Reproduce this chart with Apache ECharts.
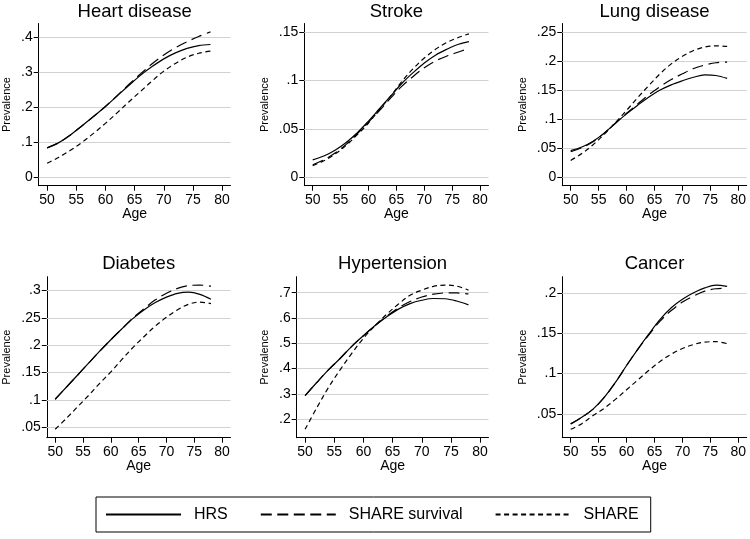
<!DOCTYPE html>
<html><head><meta charset="utf-8">
<script src="https://cdn.jsdelivr.net/npm/echarts@6/dist/echarts.min.js"></script>
<style>html,body{margin:0;padding:0;background:#fff}#c{width:750px;height:539px}</style>
</head><body><div id="c"></div>
<script>
// ---------------- data ----------------
const ages = [50,52,54,56,58,60,62,64,66,68,70,72,74,76,78];
const xTicks = [50,55,60,65,70,75,80];
const seriesNames = ['HRS','SHARE survival','SHARE'];
const titles = ['Heart disease','Stroke','Lung disease','Diabetes','Hypertension','Cancer'];

const heartHRS   = [0.084,0.099,0.121,0.147,0.174,0.202,0.232,0.262,0.291,0.316,0.338,0.355,0.368,0.376,0.379];
const heartSurv  = [0.084,0.099,0.121,0.147,0.174,0.202,0.233,0.265,0.295,0.324,0.349,0.370,0.387,0.402,0.415];
const heartSHARE = [0.040,0.057,0.077,0.100,0.126,0.154,0.184,0.215,0.245,0.275,0.303,0.325,0.343,0.354,0.360];

const strokeHRS   = [0.018,0.022,0.028,0.036,0.046,0.058,0.071,0.084,0.097,0.108,0.118,0.126,0.132,0.137,0.140];
const strokeSurv  = [0.013,0.018,0.025,0.034,0.045,0.057,0.069,0.082,0.094,0.104,0.113,0.120,0.125,0.129,0.133];
const strokeSHARE = [0.012,0.017,0.024,0.033,0.044,0.056,0.070,0.084,0.099,0.112,0.123,0.132,0.139,0.144,0.148];

const lungHRS   = [0.046,0.052,0.062,0.076,0.093,0.109,0.124,0.138,0.150,0.159,0.166,0.172,0.176,0.175,0.170];
const lungSurv  = [0.044,0.051,0.061,0.076,0.093,0.110,0.126,0.142,0.156,0.168,0.178,0.187,0.193,0.197,0.198];
const lungSHARE = [0.029,0.041,0.056,0.074,0.094,0.115,0.137,0.158,0.178,0.195,0.208,0.218,0.224,0.226,0.225];

const diabHRS   = [0.101,0.123,0.145,0.167,0.189,0.210,0.230,0.249,0.265,0.278,0.288,0.295,0.297,0.293,0.284];
const diabSurv  = [0.101,0.123,0.145,0.167,0.189,0.210,0.230,0.250,0.267,0.283,0.295,0.304,0.309,0.310,0.308];
const diabSHARE = [0.046,0.066,0.087,0.108,0.130,0.151,0.174,0.196,0.216,0.235,0.251,0.265,0.275,0.279,0.276];

const hyperHRS   = [0.293,0.345,0.395,0.440,0.488,0.530,0.570,0.605,0.635,0.657,0.670,0.677,0.676,0.667,0.652];
const hyperSurv  = [0.293,0.345,0.395,0.440,0.488,0.530,0.570,0.607,0.640,0.665,0.683,0.694,0.699,0.699,0.695];
const hyperSHARE = [0.160,0.245,0.325,0.395,0.460,0.520,0.570,0.615,0.655,0.690,0.710,0.725,0.730,0.726,0.710];

const cancerHRS   = [0.0377,0.046,0.056,0.0705,0.089,0.110,0.130,0.149,0.167,0.1815,0.192,0.200,0.206,0.2095,0.208];
const cancerSurv  = [0.0377,0.046,0.056,0.0705,0.089,0.110,0.130,0.148,0.165,0.178,0.1885,0.196,0.202,0.205,0.2055];
const cancerSHARE = [0.031,0.038,0.048,0.057,0.068,0.080,0.092,0.104,0.115,0.124,0.131,0.136,0.139,0.1395,0.137];

const yTicksHeart  = [0,0.1,0.2,0.3,0.4];
const yTicksStroke = [0,0.05,0.1,0.15];
const yTicksLung   = [0,0.05,0.1,0.15,0.2,0.25];
const yTicksDiab   = [0.05,0.1,0.15,0.2,0.25,0.3];
const yTicksHyper  = [0.2,0.3,0.4,0.5,0.6,0.7];
const yTicksCancer = [0.05,0.1,0.15,0.2];

// ---------------- layout ----------------
const FONT = '"Liberation Sans", Arial, Helvetica, sans-serif';
const boxes = [ // plot-region boxes [left, top, right, bottom]
  [38.7, 23.5, 230.5, 185.7],
  [304.3, 23.5, 488.5, 185.7],
  [562.3, 23.5, 746.7, 185.7],
  [46.8, 276.7, 230.5, 437.7],
  [296.7, 276.7, 488.5, 437.7],
  [562.3, 276.7, 746.7, 437.7]
];
const colNameX = [7, 265, 522.7];
const titleY = [11.8, 264.3];
const MARGIN = 8.4; // inner plot-region margin, px

const panelSeries = [
  [heartHRS, heartSurv, heartSHARE],
  [strokeHRS, strokeSurv, strokeSHARE],
  [lungHRS, lungSurv, lungSHARE],
  [diabHRS, diabSurv, diabSHARE],
  [hyperHRS, hyperSurv, hyperSHARE],
  [cancerHRS, cancerSurv, cancerSHARE]
];
const panelTicks = [yTicksHeart, yTicksStroke, yTicksLung, yTicksDiab, yTicksHyper, yTicksCancer];
const lineTypes = ['solid', [11, 5.5], [5, 3.5]];

const fmtY = v => {
  if (Math.abs(v) < 1e-9) return '0';
  let s = (+v.toFixed(4)).toString();
  return s.replace(/^0\./, '.');
};

const grid = [], xAxis = [], yAxis = [], series = [], graphic = [];
boxes.forEach((b, i) => {
  const [L, T, R, B] = b;
  grid.push({left: L, top: T, width: R - L, height: B - T});
  const xs = 30 / (R - L - 2 * MARGIN);
  const ticks = panelTicks[i];
  const all = panelSeries[i].flat();
  const lo = Math.min(ticks[0], Math.min(...all));
  const hi = Math.max(ticks[ticks.length - 1], Math.max(...all));
  const ys = (hi - lo) / (B - T - 2 * MARGIN);
  const col = i % 3, row = Math.floor(i / 3);
  const xMin = 50 - MARGIN * xs, xMax = 80 + MARGIN * xs;
  xAxis.push({
    type: 'value', gridIndex: i,
    min: xMin, max: xMax,
    axisLine: {show: true, onZero: false, lineStyle: {color: '#000', width: 1}},
    axisTick: {show: true, length: 5, customValues: xTicks, lineStyle: {color: '#000', width: 1}},
    axisLabel: {customValues: xTicks, margin: 7, fontSize: 14, color: '#000', fontFamily: FONT},
    splitLine: {show: false},
    name: 'Age', nameLocation: 'middle', nameGap: 21,
    nameTextStyle: {fontSize: 14, color: '#000', fontFamily: FONT}
  });
  yAxis.push({
    type: 'value', gridIndex: i,
    min: lo - MARGIN * ys, max: hi + MARGIN * ys,
    axisLine: {show: true, onZero: false, lineStyle: {color: '#000', width: 1}},
    axisTick: {show: true, length: 5, customValues: ticks, lineStyle: {color: '#000', width: 1}},
    axisLabel: {customValues: ticks, margin: 6, fontSize: 14, color: '#000', fontFamily: FONT, formatter: fmtY},
    splitLine: {show: false},
    name: 'Prevalence', nameLocation: 'middle', nameRotate: 90,
    nameGap: L - colNameX[col] - 5.5,
    nameTextStyle: {fontSize: 11, color: '#000', fontFamily: FONT}
  });
  panelSeries[i].forEach((vals, k) => {
    const s = {
      type: 'line', name: seriesNames[k], xAxisIndex: i, yAxisIndex: i, z: 3,
      data: ages.map((a, j) => [a, vals[j]]),
      symbol: 'none', showSymbol: false, smooth: 0.35, silent: true,
      lineStyle: {color: '#000', width: 1.2, type: lineTypes[k]},
      itemStyle: {color: '#000'}
    };
    if (k === 0) {
      // horizontal gridlines at the labelled y ticks
      s.markLine = {
        silent: true, z: 1, symbol: ['none', 'none'], animation: false,
        label: {show: false},
        lineStyle: {color: '#d2d2d2', width: 1, type: 'solid', opacity: 1},
        emphasis: {disabled: true},
        data: ticks.map(t => ({yAxis: t}))
      };
    }
    series.push(s);
  });
  graphic.push({
    type: 'text', x: (L + R) / 2, y: titleY[row], z: 10,
    style: {text: titles[i], fontSize: 18.5, fontFamily: FONT, fill: '#000', align: 'center', verticalAlign: 'middle'}
  });
});

const chart = echarts.init(document.getElementById('c'), null, {renderer: 'canvas'});
chart.setOption({
  animation: false,
  backgroundColor: '#fff',
  grid, xAxis, yAxis, series, graphic,
  legend: {
    data: seriesNames.map(n => ({name: n, itemStyle: {opacity: 0}})),
    selectedMode: false,
    left: 96, top: 497,
    padding: [9.5, 12, 9.5, 9],
    itemWidth: 75, itemHeight: 18, itemGap: 32,
    borderColor: '#000', borderWidth: 1,
    itemStyle: {opacity: 0},
    textStyle: {fontSize: 16, color: '#000', fontFamily: FONT, padding: [0, 0, 0, 8]}
  }
});
</script>
</body></html>
